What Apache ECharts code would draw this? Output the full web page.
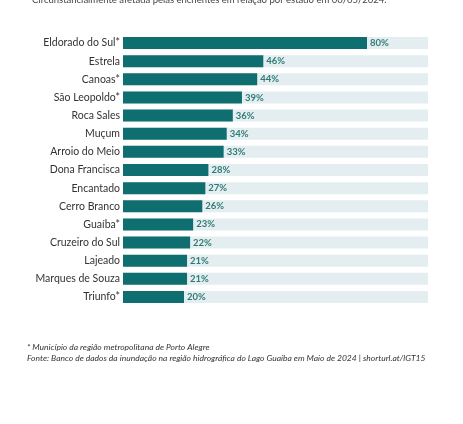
<!DOCTYPE html>
<html>
<head>
<meta charset="utf-8">
<script src="https://cdn.jsdelivr.net/npm/echarts@6/dist/echarts.min.js"></script>
<style>
    html, body { margin: 0; padding: 0; background: #ffffff; }
    #main { width: 463px; height: 424px; }
</style>
</head>
<body>
<div id="main"></div>
<script>
// municipios e percentual da area afetada
var cidades = ['Eldorado do Sul*', 'Estrela', 'Canoas*', 'São Leopoldo*', 'Roca Sales', 'Muçum',
    'Arroio do Meio', 'Dona Francisca', 'Encantado', 'Cerro Branco', 'Guaíba*', 'Cruzeiro do Sul',
    'Lajeado', 'Marques de Souza', 'Triunfo*'];
var percentuais = [80, 46, 44, 39, 36, 34, 33, 28, 27, 26, 23, 22, 21, 21, 20];
var totalMax = 100;

// barra de fundo (100%) para cada municipio
var fundo = new Array();
for (var i = 0; i < cidades.length; i++) {
    fundo[i] = totalMax;
}

var myChart = echarts.init(document.getElementById('main'));//获取容器
myChart.setOption({
    backgroundColor: '#ffffff',
    animation: false,
    textStyle: { fontFamily: 'Lato' },
    title: [{
        text: 'Circunstancialmente afetada pelas enchentes em relação por estado em 06/05/2024.',
        left: 27,
        top: -10,
        textStyle: { fontSize: 9.5, fontWeight: 'normal', color: '#444', fontFamily: 'Lato' }
    }],
    graphic: [{
        type: 'text',
        left: 27,
        top: 342,
        style: {
            text: '* Município da região metropolitana de Porto Alegre\nFonte: Banco de dados da inundação na região hidrográfica do Lago Guaíba em Maio de 2024 | shorturl.at/lGT15',
            font: 'italic 8.5px Lato',
            fill: '#333',
            lineHeight: 11
        }
    }],
    grid: {
        left: 123,
        right: 35,
        top: 34,
        bottom: 118
    },
    xAxis: {
        type: 'value',
        min: 0,
        max: totalMax,
        show: false
    },
    yAxis: {
        type: 'category',
        inverse: true,
        data: cidades,
        axisLine: { show: false },
        axisTick: { show: false },
        axisLabel: { color: '#333', fontSize: 10.5, margin: 3, fontFamily: 'Lato' }
    },
    series: [
        {
            name: 'fundo',
            type: 'bar',
            data: fundo,
            barWidth: 12,
            barGap: '-100%',
            silent: true,
            itemStyle: { color: '#e4eef0' }
        },
        {
            name: 'percentual',
            type: 'bar',
            data: percentuais,
            barWidth: 12,
            itemStyle: { color: '#0e6e70' },
            label: {
                show: true,
                position: 'right',
                distance: 3,
                formatter: '{c}%',
                color: '#2f7a78',
                fontSize: 9.5,
                fontWeight: 'bold',
                fontFamily: 'Lato'
            }
        }
    ]
});
</script>
</body>
</html>
